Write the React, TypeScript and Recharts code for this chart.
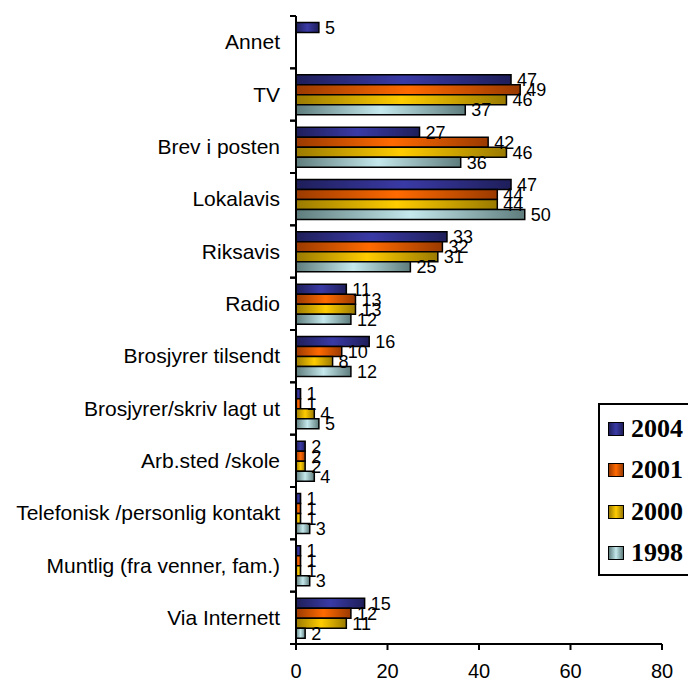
import { BarChart, Bar, XAxis, YAxis, Legend, LabelList } from 'recharts';

const categories = [
  'Annet',
  'TV',
  'Brev i posten',
  'Lokalavis',
  'Riksavis',
  'Radio',
  'Brosjyrer tilsendt',
  'Brosjyrer/skriv lagt ut',
  'Arb.sted /skole',
  'Telefonisk /personlig kontakt',
  'Muntlig (fra venner, fam.)',
  'Via Internett',
];
const v2004 = [5, 47, 27, 47, 33, 11, 16, 1, 2, 1, 1, 15];
const v2001 = [null, 49, 42, 44, 32, 13, 10, 1, 2, 1, 1, 12];
const v2000 = [null, 46, 46, 44, 31, 13, 8, 4, 2, 1, 1, 11];
const v1998 = [null, 37, 36, 50, 25, 12, 12, 5, 4, 3, 3, 2];
const xTicks = [0, 20, 40, 60, 80];

const series = [
  { key: 'y2004', name: '2004', dark: '#1e1e5a', light: '#3a3aa6' },
  { key: 'y2001', name: '2001', dark: '#9a3a00', light: '#ff6a00' },
  { key: 'y2000', name: '2000', dark: '#9a7a00', light: '#ffcc00' },
  { key: 'y1998', name: '1998', dark: '#5e7c7c', light: '#c4e8ec' },
];

const data = categories.map((name, i) => ({
  name,
  y2004: v2004[i],
  y2001: v2001[i],
  y2000: v2000[i],
  y1998: v1998[i],
}));

const W = 688;
const H = 682;
const TOP = 16;
const BOTTOM_AXIS = 38;
const BAND = (H - TOP - BOTTOM_AXIS) / categories.length;
const SANS = '"Liberation Sans", Arial, sans-serif';

function CategoryTick(props: any) {
  const { x, y, payload } = props;
  const axisX = x + 16;
  return (
    <g>
      <line x1={axisX - 6} x2={axisX} y1={y - BAND / 2} y2={y - BAND / 2} stroke="#000" strokeWidth={2} />
      <line x1={axisX - 6} x2={axisX} y1={y + BAND / 2} y2={y + BAND / 2} stroke="#000" strokeWidth={2} />
      <text x={x} y={y} dy={7} textAnchor="end" fontSize={21} fontFamily={SANS} fill="#000">
        {payload.value}
      </text>
    </g>
  );
}

function LegendBox() {
  return (
    <div
      style={{
        width: 110,
        border: '2px solid #000',
        background: '#fff',
        padding: '3px 0 0 0',
        boxSizing: 'border-box',
      }}
    >
      {series.map((s) => (
        <div key={s.key} style={{ display: 'flex', alignItems: 'center', height: 41.5 }}>
          <span
            style={{
              display: 'inline-block',
              width: 14,
              height: 12,
              marginLeft: 8,
              marginRight: 7,
              border: '1.5px solid #000',
              background: `linear-gradient(to right, ${s.dark}, ${s.light} 50%, ${s.dark})`,
            }}
          />
          <span
            style={{
              fontFamily: '"Liberation Serif", "Times New Roman", serif',
              fontWeight: 'bold',
              fontSize: 26,
              color: '#000',
              lineHeight: 1,
            }}
          >
            {s.name}
          </span>
        </div>
      ))}
    </div>
  );
}

export default function App() {
  return (
    <div style={{ position: 'absolute', left: 0, top: 0, width: W, height: H, overflow: 'hidden', background: '#fff' }}>
      <BarChart
        width={W}
        height={H}
        data={data}
        layout="vertical"
        margin={{ top: TOP, right: 26, bottom: 0, left: 0 }}
        barCategoryGap={6.5}
        barGap={0}
      >
        <defs>
          {series.map((s) => (
            <linearGradient key={s.key} id={`g-${s.key}`} x1="0" y1="0" x2="1" y2="0">
              <stop offset="0%" stopColor={s.dark} />
              <stop offset="50%" stopColor={s.light} />
              <stop offset="100%" stopColor={s.dark} />
            </linearGradient>
          ))}
        </defs>
        <XAxis
          type="number"
          domain={[0, 80]}
          ticks={xTicks}
          height={BOTTOM_AXIS}
          tickSize={6}
          tickMargin={14}
          axisLine={{ stroke: '#000', strokeWidth: 2 }}
          tickLine={{ stroke: '#000', strokeWidth: 2 }}
          tick={{ fill: '#000', fontSize: 20, fontFamily: SANS }}
        />
        <YAxis
          type="category"
          dataKey="name"
          width={296}
          tickSize={6}
          tickMargin={10}
          tickLine={false}
          axisLine={{ stroke: '#000', strokeWidth: 2 }}
          interval={0}
          tick={<CategoryTick />}
        />
        <Legend
          layout="vertical"
          align="center"
          verticalAlign="middle"
          content={() => <LegendBox />}
          wrapperStyle={{ left: 598, top: 403, width: 110 }}
        />
        {series.map((s) => (
          <Bar
            key={s.key}
            dataKey={s.key}
            name={s.name}
            fill={`url(#g-${s.key})`}
            stroke="#000"
            strokeWidth={1.5}
            isAnimationActive={false}
          >
            <LabelList
              dataKey={s.key}
              position="right"
              offset={6}
              fill="#000"
              fontSize={18}
              fontFamily={SANS}
            />
          </Bar>
        ))}
      </BarChart>
    </div>
  );
}
